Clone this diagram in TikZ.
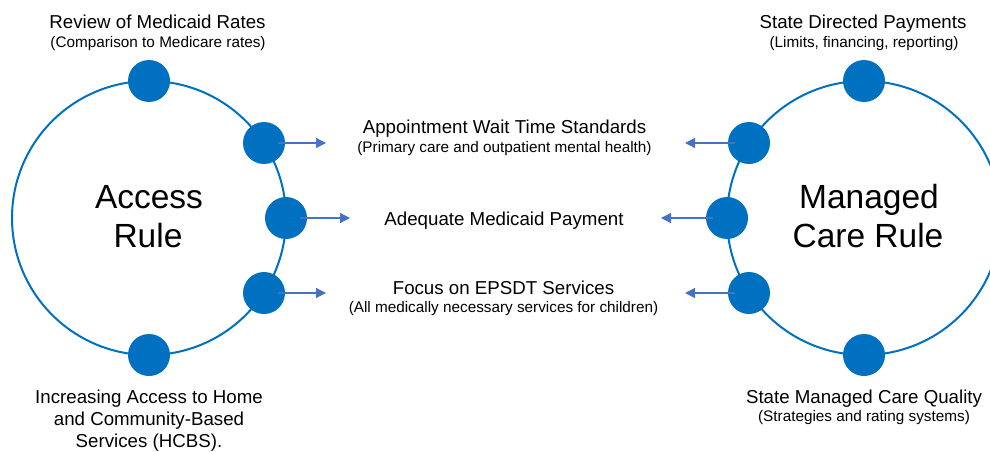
\documentclass[tikz,border=0pt]{standalone}
\usepackage{fontspec}
\setmainfont{Liberation Sans}
\usepackage{tikz}
\usetikzlibrary{arrows.meta}
\definecolor{dotblue}{HTML}{0070C0}
\definecolor{arrowblue}{HTML}{4472C4}
\tikzset{
  headtxt/.style={font=\fontsize{18.7}{22}\selectfont, anchor=base, inner sep=0pt},
  subtxt/.style={font=\fontsize{15.3}{18}\selectfont, anchor=base, inner sep=0pt},
  bigtxt/.style={font=\fontsize{33.5}{40}\selectfont, anchor=base, inner sep=0pt},
  ptr/.style={draw=arrowblue, line width=1.2pt, -{Triangle[length=10pt,width=10pt]}}
}
\newcommand{\ring}[3]{\draw[dotblue, line width=2pt] ( #1 , #2 ) circle ( #3 );}
\newcommand{\ruledot}[3]{\node[shape=circle,draw=none,fill=dotblue,inner sep=0pt,minimum size=42pt] (#1) at ( #2 , #3 ) {};}
\newcommand{\headlbl}[4]{\node[headtxt] (#1) at ( #2 , #3 ) {#4};}
\newcommand{\sublbl}[4]{\node[subtxt] (#1) at ( #2 , #3 ) {#4};}

\begin{document}
\begin{tikzpicture}[x=1pt,y=-1pt]
        \useasboundingbox (0,0) rectangle (990,452);

        % rings
        \ring{149}{218}{137}
        \ring{864}{218}{137}

        % access rule dots
        \ruledot{a1}{149}{81}
        \ruledot{a2}{264}{143}
        \ruledot{a3}{286}{218}
        \ruledot{a4}{264}{293}
        \ruledot{a5}{149}{355}

        % managed care dots
        \ruledot{m1}{864}{81}
        \ruledot{m2}{749}{143}
        \ruledot{m3}{727}{218}
        \ruledot{m4}{749}{293}
        \ruledot{m5}{864}{355}

        % arrow ends
        \coordinate (a2tip) at (326,143);
        \coordinate (a3tip) at (350,218);
        \coordinate (a4tip) at (326,293);
        \coordinate (m2tip) at (685,143);
        \coordinate (m3tip) at (661,218);
        \coordinate (m4tip) at (685,293);

        \draw[ptr] ([xshift=-7pt]a2.east) -- (a2tip);
        \draw[ptr] ([xshift=-7pt]a3.east) -- (a3tip);
        \draw[ptr] ([xshift=-7pt]a4.east) -- (a4tip);
        \draw[ptr] ([xshift=7pt]m2.west) -- (m2tip);
        \draw[ptr] ([xshift=7pt]m3.west) -- (m3tip);
        \draw[ptr] ([xshift=7pt]m4.west) -- (m4tip);

        % rule names
        \node[bigtxt] (acc1) at (149,208) {Access};
        \node[bigtxt] (acc2) at (148,247.5) {Rule};
        \node[bigtxt] (mcr1) at (869,208) {Managed};
        \node[bigtxt] (mcr2) at (868,247.5) {Care Rule};

        % left labels
        \headlbl{rev}{157.5}{29}{Review of Medicaid Rates}
        \sublbl{revsub}{158}{48}{(Comparison to Medicare rates)}
        \headlbl{hcbs1}{149}{403}{Increasing Access to Home}
        \headlbl{hcbs2}{149}{425}{and Community-Based}
        \headlbl{hcbs3}{149}{447}{Services (HCBS).}

        % right labels
        \headlbl{sdp}{863}{29}{State Directed Payments}
        \sublbl{sdpsub}{864}{48}{(Limits, financing, reporting)}
        \headlbl{qual}{864}{403}{State Managed Care Quality}
        \sublbl{qualsub}{864}{421}{(Strategies and rating systems)}

        % shared items
        \headlbl{wait}{504.5}{133}{Appointment Wait Time Standards}
        \sublbl{waitsub}{504.5}{152}{(Primary care and outpatient mental health)}
        \headlbl{pay}{504}{225}{Adequate Medicaid Payment}
        \headlbl{epsdt}{503.5}{294}{Focus on EPSDT Services}
        \sublbl{epsdtsub}{503.5}{312}{(All medically necessary services for children)}
    \end{tikzpicture}
\end{document}
